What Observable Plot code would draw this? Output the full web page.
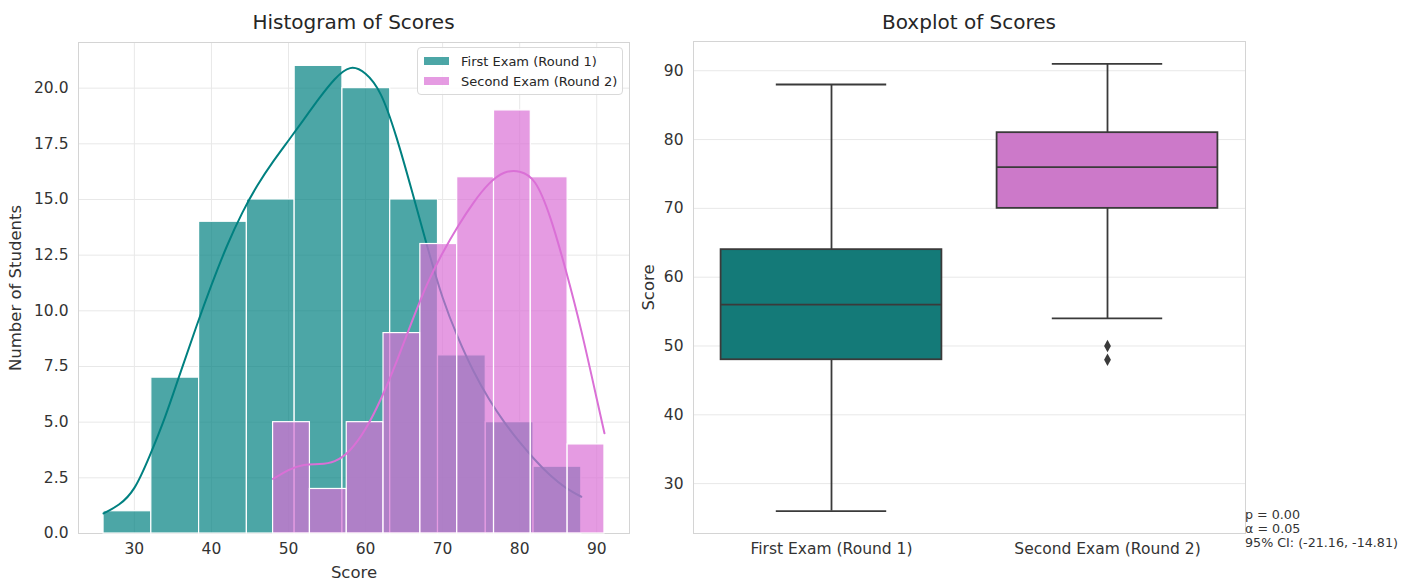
<!DOCTYPE html>
<html>
<head>
<meta charset="utf-8">
<script src="https://cdn.jsdelivr.net/npm/d3@7"></script>
<script src="https://cdn.jsdelivr.net/npm/@observablehq/plot@0.6"></script>
<style>
  html, body { margin: 0; padding: 0; background: #ffffff; }
  #wrap { position: relative; width: 1420px; height: 580px; font-family: "DejaVu Sans", sans-serif; color: #262626; }
  .panel { position: absolute; top: 0; }
  .title { position: absolute; top: 10px; font-size: 20px; transform: translateX(-50%); white-space: nowrap; }
  .legend { position: absolute; left: 417px; top: 47px; width: 204px; height: 46px; border: 1px solid #d9d9d9; border-radius: 4px; background: rgba(255,255,255,0.85); font-size: 13px; }
  .legend .row { position: absolute; left: 6px; height: 16px; display: flex; align-items: center; }
  .legend .sw { width: 25px; height: 8px; margin-right: 12px; }
  .stats { position: absolute; left: 1245px; top: 508px; font-size: 12.7px; line-height: 14px; color: #333; white-space: pre; }
</style>
</head>
<body>
<div id="wrap"></div>
<script>
// ---- Histogram: bin edges and student counts per bin ----
const edgesRound1 = [26, 32.2, 38.4, 44.6, 50.8, 57, 63.2, 69.4, 75.6, 81.8, 88];
const countsRound1 = [1, 7, 14, 15, 21, 20, 15, 8, 5, 3];
const edgesRound2 = [48, 52.78, 57.56, 62.33, 67.11, 71.89, 76.67, 81.44, 86.22, 91];
const countsRound2 = [5, 2, 5, 9, 13, 16, 19, 16, 4];

// ---- Density curves (scaled to counts) ----
const kdeScore1 = [26, 28, 30, 32, 34, 36, 38, 40, 42, 44, 46, 48, 50, 52, 54, 56, 58, 60, 62, 64, 66, 68, 70, 72, 74, 76, 78, 80, 82, 84, 86, 88];
const kdeCount1 = [0.9, 1.3, 2.05, 3.5, 5.25, 7.25, 9.25, 11.15, 12.9, 14.4, 15.65, 16.7, 17.65, 18.6, 19.55, 20.4, 20.9, 20.65, 19.7, 17.8, 15.4, 12.9, 10.6, 8.8, 7.3, 6.05, 5.0, 4.1, 3.3, 2.6, 2.05, 1.65];
const kdeScore2 = [48, 50, 52, 54, 56, 58, 60, 62, 64, 66, 68, 70, 72, 74, 76, 78, 80, 82, 84, 86, 88, 90, 91];
const kdeCount2 = [2.45, 2.85, 3.08, 3.12, 3.25, 3.75, 4.7, 6.05, 7.7, 9.5, 11.2, 12.6, 13.8, 14.85, 15.7, 16.2, 16.25, 15.75, 14.15, 11.8, 9.1, 6.05, 4.5];

// ---- Boxplot summary ----
const groups = ["First Exam (Round 1)", "Second Exam (Round 2)"];
const whiskerLow = [26, 54];
const quartile1 = [48, 70];
const medians = [56, 76];
const quartile3 = [64, 81];
const whiskerHigh = [88, 91];
const outlierGroup = [1, 1];
const outlierScore = [50, 48];

// ---- Tick values and text ----
const histXTicks = [30, 40, 50, 60, 70, 80, 90];
const histYTicks = [0, 2.5, 5, 7.5, 10, 12.5, 15, 17.5, 20];
const boxYTicks = [30, 40, 50, 60, 70, 80, 90];
const statLines = ["p = 0.00", "α = 0.05", "95% CI: (-21.16, -14.81)"];

const teal = "#008080";
const orchid = "#da70d6";
const gridColor = "#e8e8e8";
const frameColor = "#d4d4d4";
const boxLine = "#3a3a3a";
const tickFont = 15.5;
const labelFont = 16.5;

const bins = (edges, counts) => counts.map((c, i) => ({x1: edges[i], x2: edges[i + 1], count: c}));
const curve = (xs, ys) => xs.map((x, i) => ({score: x, count: ys[i]}));

const baseStyle = {fontFamily: "DejaVu Sans, sans-serif", fontSize: "15px", color: "#333", background: "transparent", overflow: "visible"};

const hist = Plot.plot({
  width: 640, height: 580,
  marginLeft: 78, marginRight: 11, marginTop: 42, marginBottom: 47,
  style: baseStyle,
  x: {domain: [22.75, 94.25]},
  y: {domain: [0, 22.05]},
  marks: [
    Plot.gridX(histXTicks, {stroke: gridColor, strokeOpacity: 1}),
    Plot.gridY(histYTicks, {stroke: gridColor, strokeOpacity: 1}),
    Plot.frame({stroke: frameColor}),
    Plot.rectY(bins(edgesRound1, countsRound1), {x1: "x1", x2: "x2", y: "count", fill: teal, fillOpacity: 0.7, stroke: "white", strokeWidth: 1.2, inset: 0}),
    Plot.line(curve(kdeScore1, kdeCount1), {x: "score", y: "count", stroke: teal, strokeWidth: 2, curve: "natural"}),
    Plot.rectY(bins(edgesRound2, countsRound2), {x1: "x1", x2: "x2", y: "count", fill: orchid, fillOpacity: 0.7, stroke: "white", strokeWidth: 1.2, inset: 0}),
    Plot.line(curve(kdeScore2, kdeCount2), {x: "score", y: "count", stroke: orchid, strokeWidth: 2, curve: "natural"}),
    Plot.axisX(histXTicks, {tickSize: 0, tickPadding: 9, fontSize: tickFont, label: null}),
    Plot.axisX([], {fontSize: labelFont, label: "Score", labelAnchor: "center", labelOffset: 44, labelArrow: "none"}),
    Plot.axisY(histYTicks, {tickSize: 0, tickPadding: 10, fontSize: tickFont, tickFormat: d3.format(".1f"), label: null}),
    Plot.axisY([], {fontSize: labelFont, label: "Number of Students", labelAnchor: "center", labelOffset: 69, labelArrow: "none"})
  ]
});

const boxes = groups.map((g, i) => ({
  i, g, lo: whiskerLow[i], q1: quartile1[i], med: medians[i], q3: quartile3[i], hi: whiskerHigh[i]
}));
const outliers = outlierGroup.map((gi, k) => ({i: gi, score: outlierScore[k]}));

// slim diamond marker for outliers
const thinDiamond = {
  draw(ctx, size) {
    const h = Math.sqrt(size) * 0.7, w = h * 0.55;
    ctx.moveTo(0, -h); ctx.lineTo(w, 0); ctx.lineTo(0, h); ctx.lineTo(-w, 0); ctx.closePath();
  }
};

const box = Plot.plot({
  width: 780, height: 580,
  marginLeft: 53, marginRight: 175, marginTop: 41, marginBottom: 47,
  style: baseStyle,
  x: {domain: [-0.5, 1.5]},
  y: {domain: [22.75, 94.25]},
  marks: [
    Plot.gridY(boxYTicks, {stroke: gridColor, strokeOpacity: 1}),
    Plot.frame({stroke: frameColor}),
    Plot.ruleX(boxes, {x: "i", y1: "lo", y2: "q1", stroke: boxLine, strokeWidth: 1.8}),
    Plot.ruleX(boxes, {x: "i", y1: "q3", y2: "hi", stroke: boxLine, strokeWidth: 1.8}),
    Plot.ruleY(boxes, {y: "lo", x1: d => d.i - 0.2, x2: d => d.i + 0.2, stroke: boxLine, strokeWidth: 1.8}),
    Plot.ruleY(boxes, {y: "hi", x1: d => d.i - 0.2, x2: d => d.i + 0.2, stroke: boxLine, strokeWidth: 1.8}),
    Plot.rect(boxes, {x1: d => d.i - 0.4, x2: d => d.i + 0.4, y1: "q1", y2: "q3", fill: d => d.i === 0 ? "#147a78" : "#cc79c9", stroke: boxLine, strokeWidth: 1.8}),
    Plot.ruleY(boxes, {y: "med", x1: d => d.i - 0.4, x2: d => d.i + 0.4, stroke: boxLine, strokeWidth: 1.8}),
    Plot.dot(outliers, {x: "i", y: "score", r: 5, symbol: thinDiamond, fill: boxLine, stroke: "none"}),
    Plot.axisX([0, 1], {tickSize: 0, tickPadding: 9, fontSize: tickFont, tickFormat: i => groups[i], label: null}),
    Plot.axisY(boxYTicks, {tickSize: 0, tickPadding: 10, fontSize: tickFont, label: null}),
    Plot.axisY([], {fontSize: labelFont, label: "Score", labelAnchor: "center", labelOffset: 51, labelArrow: "none"})
  ]
});

const wrap = document.getElementById("wrap");

const leftPanel = document.createElement("div");
leftPanel.className = "panel";
leftPanel.style.left = "0px";
leftPanel.appendChild(hist);
wrap.appendChild(leftPanel);

const rightPanel = document.createElement("div");
rightPanel.className = "panel";
rightPanel.style.left = "640px";
rightPanel.appendChild(box);
wrap.appendChild(rightPanel);

function addTitle(text, cx) {
  const t = document.createElement("div");
  t.className = "title";
  t.style.left = cx + "px";
  t.textContent = text;
  wrap.appendChild(t);
}
addTitle("Histogram of Scores", 353.5);
addTitle("Boxplot of Scores", 969);

// legend for the histogram
const legend = document.createElement("div");
legend.className = "legend";
[["First Exam (Round 1)", teal], ["Second Exam (Round 2)", orchid]].forEach(([label, color], k) => {
  const row = document.createElement("div");
  row.className = "row";
  row.style.top = (5 + k * 20) + "px";
  const sw = document.createElement("span");
  sw.className = "sw";
  sw.style.background = color;
  sw.style.opacity = 0.7;
  const tx = document.createElement("span");
  tx.textContent = label;
  row.appendChild(sw);
  row.appendChild(tx);
  legend.appendChild(row);
});
wrap.appendChild(legend);

const stats = document.createElement("div");
stats.className = "stats";
stats.textContent = statLines.join("\n");
wrap.appendChild(stats);
</script>
</body>
</html>
